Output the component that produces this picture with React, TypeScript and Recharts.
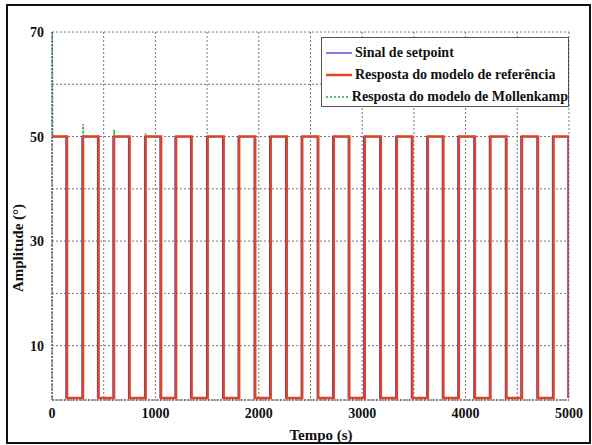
import { LineChart, Line, XAxis, YAxis, CartesianGrid } from 'recharts';

// edges (seconds)
const responseRise = [0, 300, 600, 905, 1200, 1505, 1810, 2115, 2420, 2725, 3025, 3335, 3635, 3935, 4240, 4545, 4850];
const responseFall = [145, 450, 750, 1055, 1350, 1660, 1965, 2270, 2575, 2875, 3180, 3485, 3785, 4090, 4395, 4700, 5000];
const setpointRise = [0, 290, 590, 895, 1190, 1495, 1800, 2105, 2410, 2715, 3015, 3325, 3625, 3925, 4230, 4535, 4840];
const setpointFall = [135, 440, 740, 1045, 1340, 1650, 1955, 2260, 2565, 2865, 3170, 3475, 3775, 4080, 4385, 4690, 4990];
const mollenkampPeak = [95, 52.4, 51.3, 50.6, 50.3, 50, 50, 50, 50, 50, 50, 50, 50, 50, 50, 50, 50];
const HIGH = 50;
const LOW = 0;

const yTicks = [10, 20, 30, 40, 50, 60, 70];
const xTicks = [0, 500, 1000, 1500, 2000, 2500, 3000, 3500, 4000, 4500, 5000];

const buildSquare = (rise: number[], fall: number[]) => {
  const pts: { t: number; v: number }[] = [];
  rise.forEach((r, i) => {
    if (i > 0) pts.push({ t: r, v: LOW });
    pts.push({ t: r, v: HIGH });
    pts.push({ t: fall[i], v: HIGH });
    pts.push({ t: fall[i], v: LOW });
  });
  return pts;
};

const buildMollenkamp = () => {
  const pts: { t: number; v: number }[] = [];
  responseRise.forEach((r, i) => {
    pts.push({ t: r, v: LOW });
    pts.push({ t: r, v: mollenkampPeak[i] });
    pts.push({ t: r + 6, v: HIGH });
    pts.push({ t: responseFall[i], v: HIGH });
    pts.push({ t: responseFall[i], v: LOW });
  });
  return pts;
};

const setpointData = buildSquare(setpointRise, setpointFall);
const responseData = buildSquare(responseRise, responseFall);
const mollenkampData = buildMollenkamp();

const FONT = '"Liberation Serif", "Times New Roman", serif';
const BLUE = '#2a2ad8';
const RED = '#dc4526';
const GREEN = '#22a83a';

const legendItems = [
  { name: 'Sinal de setpoint', color: BLUE, width: 1.2, dash: undefined },
  { name: 'Resposta do modelo de referência', color: RED, width: 2.5, dash: undefined },
  { name: 'Resposta do modelo de Mollenkamp', color: GREEN, width: 1.5, dash: '2 2' },
];

function LegendBox() {
  return (
    <div
      style={{
        position: 'absolute',
        left: 321,
        top: 37,
        width: 248,
        height: 70,
        boxSizing: 'border-box',
        border: '1px solid #555',
        background: '#fff',
        padding: '4px 0 0 4px',
        fontFamily: FONT,
        fontWeight: 'bold',
        fontSize: 14,
        color: '#111',
        whiteSpace: 'nowrap',
      }}
    >
      {legendItems.map((it) => (
        <div key={it.name} style={{ display: 'flex', alignItems: 'center', height: 22 }}>
          <svg width={27} height={10} style={{ marginRight: 2 }}>
            <line x1={0} y1={5} x2={26} y2={5} stroke={it.color} strokeWidth={it.width} strokeDasharray={it.dash} />
          </svg>
          <span>{it.name}</span>
        </div>
      ))}
    </div>
  );
}

const tickStyle = { fill: '#111', fontFamily: FONT, fontWeight: 'bold' as const, fontSize: 14 };

export default function App() {
  return (
    <div style={{ position: 'absolute', left: 0, top: 0, width: 592, height: 445, background: '#fff' }}>
      <LineChart width={592} height={445} margin={{ top: 32, right: 23, bottom: 15, left: 12 }}>
        <CartesianGrid stroke="#777" strokeDasharray="2 2" />
        <XAxis
          dataKey="t"
          type="number"
          domain={[0, 5000]}
          ticks={xTicks}
          allowDataOverflow
          tickFormatter={(v: number) => (v % 1000 === 0 ? String(v) : '')}
          tick={tickStyle}
          tickLine={false}
          axisLine={{ stroke: '#444', strokeDasharray: '2 1' }}
          height={30}
          label={{
            content: () => (
              <text x={321} y={440} textAnchor="middle" fontFamily={FONT} fontWeight="bold" fontSize={15} fill="#111">
                Tempo (s)
              </text>
            ),
          }}
        />
        <YAxis
          type="number"
          domain={[-0.4, 70]}
          ticks={yTicks}
          allowDataOverflow
          tickFormatter={(v: number) => (v % 20 === 10 ? String(v) : '')}
          tick={tickStyle}
          tickLine={false}
          axisLine={{ stroke: '#444', strokeDasharray: '2 1' }}
          width={40}
          label={{
            content: () => (
              <text
                x={23}
                y={248}
                transform="rotate(-90 23 248)"
                textAnchor="middle"
                fontFamily={FONT}
                fontWeight="bold"
                fontSize={15}
                fill="#111"
              >
                Amplitude (°)
              </text>
            ),
          }}
        />
        <Line data={mollenkampData} dataKey="v" stroke={GREEN} strokeWidth={1.5} strokeDasharray="2 2" dot={false} isAnimationActive={false} name="Resposta do modelo de Mollenkamp" />
        <Line data={setpointData} dataKey="v" stroke={BLUE} strokeWidth={1.2} dot={false} isAnimationActive={false} name="Sinal de setpoint" />
        <Line data={responseData} dataKey="v" stroke={RED} strokeWidth={2.5} dot={false} isAnimationActive={false} name="Resposta do modelo de referência" />
      </LineChart>
      <LegendBox />
      <div
        style={{
          position: 'absolute',
          left: 6,
          top: 4,
          width: 585,
          height: 440,
          boxSizing: 'border-box',
          border: '2px solid #111',
          pointerEvents: 'none',
        }}
      />
    </div>
  );
}
